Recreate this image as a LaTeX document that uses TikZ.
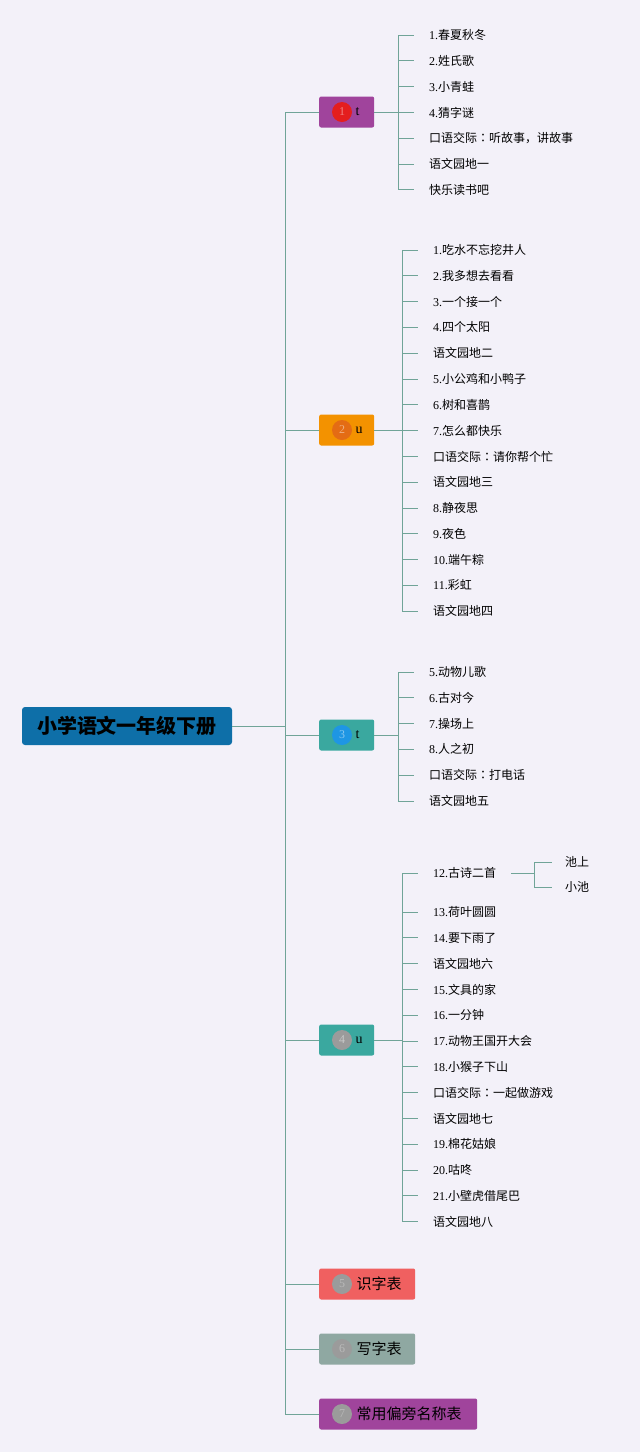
\documentclass[tikz,border=0pt]{standalone}
\usepackage{fontspec}
\setmainfont{Liberation Serif}
\newfontfamily\cjk{Noto Sans CJK SC}
\newfontfamily\cjkjp{Noto Sans CJK JP}
\usetikzlibrary{positioning}
\definecolor{cback}{RGB}{243,241,249}
\definecolor{cline}{RGB}{112,164,152}
\definecolor{croot}{RGB}{14,111,168}
\definecolor{cpurple}{RGB}{160,68,156}
\definecolor{corange}{RGB}{243,146,0}
\definecolor{cteal}{RGB}{58,168,159}
\definecolor{cred}{RGB}{240,96,96}
\definecolor{cgrey}{RGB}{143,168,162}
\definecolor{bred}{RGB}{228,30,30}
\definecolor{borange}{RGB}{228,108,20}
\definecolor{bblue}{RGB}{30,150,228}
\definecolor{bgrey}{RGB}{155,155,155}
\newcommand\Num[1]{{\rmfamily#1.}}
\newcommand\Colon{{\cjkjp ：}}
\tikzset{
Edge/.style={
	draw=cline,
	line width=1
},
Root/.style={
	fill=croot,
	rounded corners=3,
	minimum width=210,
	minimum height=38,
	inner sep=0,
	font=\cjk\bfseries\fontsize{20}{24}\selectfont
},
Topic/.style={
	rounded corners=2,
	minimum height=31,
	anchor=west,
	inner sep=0
},
Badge/.style={
	circle,
	minimum size=20,
	inner sep=0,
	font=\rmfamily\fontsize{12}{12}\selectfont
},
Leaf/.style={
	anchor=west,
	inner sep=0,
	font=\cjk\fontsize{12}{14}\selectfont
}
}

\begin{document}
\begin{tikzpicture}[x=1pt, y=-1pt]
	\fill[cback] (0,0) rectangle (640,1452);
	\useasboundingbox (0,0) rectangle (640,1452);

	\node[Root] (root) at (127,726) {小学语文一年级下册};
	\coordinate (T) at (285,0);

	% topics with a letter
	\foreach \i/\y/\col/\bcol/\ch in {1/112/cpurple/bred/t, 2/430/corange/borange/u, 3/735/cteal/bblue/t, 4/1040/cteal/bgrey/u}{
		\node[Topic, fill=\col, minimum width=55] (b\i) at (319,\y) {};
		\node[Badge, fill=\bcol, text=\bcol!55!white] (c\i) at (342,\y) {\i};
		\node[right=0 of c\i, font=\rmfamily\fontsize{14}{14}\selectfont] (t\i) {\ch};
	}
	% topics with a title
	\foreach \i/\y/\w/\col in {5/1284/96/cred, 6/1349/96/cgrey, 7/1414/158/cpurple}{
		\node[Topic, fill=\col, minimum width=\w] (b\i) at (319,\y) {};
		\node[Badge, fill=bgrey, text=bgrey!70!white] (c\i) at (342,\y) {\i};
	}
	\node[right=1pt of c5, font=\cjk\fontsize{15}{18}\selectfont] (t5) {识字表};
	\node[right=1pt of c6, font=\cjk\fontsize{15}{18}\selectfont] (t6) {写字表};
	\node[right=1pt of c7, font=\cjk\fontsize{15}{18}\selectfont] (t7) {常用偏旁名称表};

	\draw[Edge] (root.east) -- (root.east -| T);
	\draw[Edge] (b1.west -| T) -- (b7.west -| T);
	\foreach \i in {1,...,7}
		\draw[Edge] (b\i.west -| T) -- (b\i.west);

	% unit 1
	\coordinate (G1) at (398,0);
	\foreach \txt [count=\k from 0] in {{\Num{1}春夏秋冬}, {\Num{2}姓氏歌}, {\Num{3}小青蛙}, {\Num{4}猜字谜}, {口语交际\Colon 听故事，讲故事}, {语文园地一}, {快乐读书吧}}{
		\node[Leaf] (p\k) at (429,{35+25.8*\k}) {\txt};
		\draw[Edge] (p\k.west -| G1) -- ([xshift=-15]p\k.west);
	}
	\draw[Edge] (p0.west -| G1) -- (p6.west -| G1);
	\draw[Edge] (b1.east) -- (b1.east -| G1);

	% unit 2
	\coordinate (G2) at (402,0);
	\foreach \txt [count=\k from 0] in {{\Num{1}吃水不忘挖井人}, {\Num{2}我多想去看看}, {\Num{3}一个接一个}, {\Num{4}四个太阳}, {语文园地二}, {\Num{5}小公鸡和小鸭子}, {\Num{6}树和喜鹊}, {\Num{7}怎么都快乐}, {口语交际\Colon 请你帮个忙}, {语文园地三}, {\Num{8}静夜思}, {\Num{9}夜色}, {\Num{10}端午粽}, {\Num{11}彩虹}, {语文园地四}}{
		\node[Leaf] (q\k) at (433,{250+25.8*\k}) {\txt};
		\draw[Edge] (q\k.west -| G2) -- ([xshift=-15]q\k.west);
	}
	\draw[Edge] (q0.west -| G2) -- (q14.west -| G2);
	\draw[Edge] (b2.east) -- (b2.east -| G2);

	% unit 3
	\coordinate (G3) at (398,0);
	\foreach \txt [count=\k from 0] in {{\Num{5}动物儿歌}, {\Num{6}古对今}, {\Num{7}操场上}, {\Num{8}人之初}, {口语交际\Colon 打电话}, {语文园地五}}{
		\node[Leaf] (r\k) at (429,{672+25.8*\k}) {\txt};
		\draw[Edge] (r\k.west -| G3) -- ([xshift=-15]r\k.west);
	}
	\draw[Edge] (r0.west -| G3) -- (r5.west -| G3);
	\draw[Edge] (b3.east) -- (b3.east -| G3);

	% unit 4
	\coordinate (G4) at (402,0);
	\node[Leaf] (s0) at (433,873) {\Num{12}古诗二首};
	\draw[Edge] (s0.west -| G4) -- ([xshift=-15]s0.west);
	\foreach \txt [count=\k from 1] in {{\Num{13}荷叶圆圆}, {\Num{14}要下雨了}, {语文园地六}, {\Num{15}文具的家}, {\Num{16}一分钟}, {\Num{17}动物王国开大会}, {\Num{18}小猴子下山}, {口语交际\Colon 一起做游戏}, {语文园地七}, {\Num{19}棉花姑娘}, {\Num{20}咕咚}, {\Num{21}小壁虎借尾巴}, {语文园地八}}{
		\node[Leaf] (s\k) at (433,{912+25.8*(\k-1)}) {\txt};
		\draw[Edge] (s\k.west -| G4) -- ([xshift=-15]s\k.west);
	}
	\draw[Edge] (s0.west -| G4) -- (s13.west -| G4);
	\draw[Edge] (b4.east) -- (b4.east -| G4);

	% poems
	\coordinate (H) at (534,0);
	\node[Leaf] (x1) at (565,862) {池上};
	\node[Leaf] (x2) at (565,887) {小池};
	\draw[Edge] ([xshift=15]s0.east) -- (s0.east -| H);
	\draw[Edge] (x1.west -| H) -- (x2.west -| H);
	\draw[Edge] (x1.west -| H) -- ([xshift=-13]x1.west);
	\draw[Edge] (x2.west -| H) -- ([xshift=-13]x2.west);
\end{tikzpicture}
\end{document}
